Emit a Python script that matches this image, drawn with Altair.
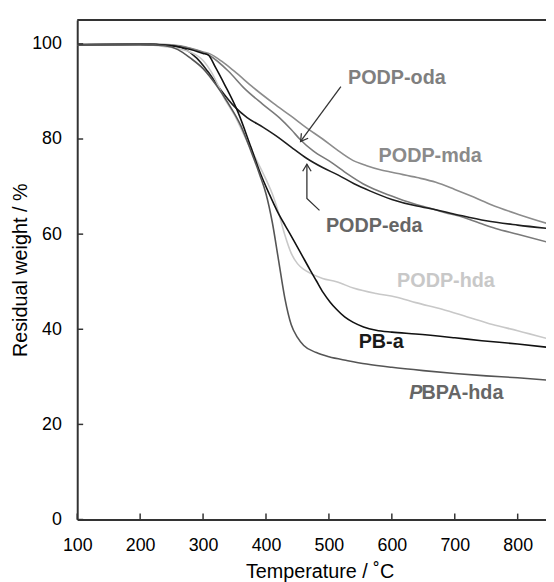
import altair as alt
import pandas as pd

FONT = "Liberation Sans, Arial, Helvetica, sans-serif"

# ---- data ----
series_names = ["PODP-mda", "PODP-oda", "PODP-eda", "PODP-hda", "PB-a", "PBPA-hda"]
series_colors = ["#8c8c8c", "#7a7a7a", "#1e1e1e", "#c8c8c8", "#111111", "#555555"]

mda_T = [100, 200, 250, 280, 300, 311, 330, 350, 380, 412, 440, 465, 490, 512, 538, 560, 580, 600, 640, 670, 700, 730, 758, 800, 848]
mda_W = [99.9, 100.0, 99.8, 99.1, 98.3, 97.9, 96.3, 94.2, 90.8, 87.5, 84.8, 82.3, 80.0, 77.8, 75.5, 74.4, 73.6, 73.0, 71.9, 70.9, 69.4, 67.8, 66.2, 64.2, 62.2]

oda_T = [100, 200, 250, 280, 311, 340, 366, 395, 422, 440, 455, 475, 505, 530, 554, 580, 610, 640, 660, 685, 707, 740, 765, 800, 848]
oda_W = [99.8, 99.9, 99.7, 99.0, 97.5, 94.3, 90.6, 87.3, 84.4, 82.0, 79.8, 77.5, 75.0, 72.6, 70.6, 69.0, 67.5, 66.2, 65.5, 64.5, 63.8, 62.3, 61.2, 60.0, 58.3]

eda_T = [100, 200, 250, 271, 290, 307, 330, 350, 370, 395, 420, 440, 465, 490, 515, 540, 565, 600, 640, 660, 700, 750, 800, 848]
eda_W = [99.8, 99.9, 99.6, 98.9, 97.0, 94.3, 90.0, 86.8, 84.5, 82.5, 80.3, 78.3, 75.9, 74.0, 72.4, 70.6, 69.1, 67.3, 65.9, 65.4, 64.2, 62.8, 61.9, 61.2]

hda_T = [100, 200, 230, 260, 281, 300, 313, 334, 350, 360, 376, 386, 400, 410, 420, 430, 440, 450, 460, 470, 490, 512, 540, 575, 606, 638, 680, 720, 760, 800, 848]
hda_W = [99.8, 99.9, 99.6, 99.0, 98.2, 96.5, 94.1, 88.5, 85.0, 82.3, 77.8, 75.3, 71.5, 68.5, 64.5, 59.8, 56.0, 53.8, 52.6, 51.8, 50.7, 50.0, 48.6, 47.5, 46.8, 45.6, 44.2, 42.6, 41.0, 39.7, 38.0]

pba_T = [100, 200, 250, 280, 300, 308, 320, 334, 355, 376, 391, 405, 418, 431, 444, 457, 470, 480, 491, 502, 512, 525, 538, 555, 575, 600, 638, 700, 743, 800, 848]
pba_W = [99.8, 99.9, 99.6, 98.8, 98.0, 97.7, 95.0, 91.5, 85.8, 78.3, 72.8, 68.5, 64.8, 61.7, 58.7, 55.6, 52.5, 50.2, 47.7, 45.7, 44.2, 42.6, 41.5, 40.5, 39.8, 39.4, 39.0, 38.2, 37.6, 36.9, 36.2]

pbpa_T = [100, 200, 240, 260, 280, 300, 320, 340, 360, 376, 390, 400, 410, 420, 430, 440, 450, 460, 480, 500, 530, 560, 600, 650, 700, 750, 800, 848]
pbpa_W = [99.8, 99.9, 99.6, 98.8, 97.0, 94.8, 91.5, 87.5, 82.8, 77.5, 72.5, 68.5, 62.5, 54.5, 46.5, 41.0, 38.3, 36.6, 35.1, 34.2, 33.4, 32.7, 32.0, 31.3, 30.7, 30.2, 29.8, 29.3]

x_ticks = [100, 200, 300, 400, 500, 600, 700, 800]
y_ticks = [0, 20, 40, 60, 80, 100]

# labels (data coordinates)
label_texts = ["PODP-oda", "PODP-mda", "PODP-eda", "PODP-hda", "PB-a"]
label_T = [608, 661, 572, 686, 583]
label_W = [92.8, 76.4, 61.6, 50.2, 37.3]
label_colors = ["#7f7f7f", "#8a8a8a", "#666666", "#c8c8c8", "#1a1a1a"]
pbpa_label_T = 647
pbpa_label_W = 26.5

# arrows
arrow_id = ["oda", "oda", "eda", "eda", "eda"]
arrow_k = [0, 1, 0, 1, 2]
arrow_T = [519, 455, 485, 465, 465]
arrow_W = [91.0, 79.5, 65.0, 67.5, 74.7]
head_T = [455, 465]
head_W = [79.5, 74.7]
head_angle = [216.4, 0]

# ---- build tables ----
all_T = [mda_T, oda_T, eda_T, hda_T, pba_T, pbpa_T]
all_W = [mda_W, oda_W, eda_W, hda_W, pba_W, pbpa_W]
rows = []
for name, Ts, Ws in zip(series_names, all_T, all_W):
    for t, w in zip(Ts, Ws):
        rows.append({"series": name, "T": t, "W": w})
df = pd.DataFrame(rows)

W_PX = 474
H_PX = 505
x_scale = alt.Scale(domain=[100, 845], nice=False, zero=False)
y_scale = alt.Scale(domain=[0, 105], nice=False, zero=True)

X_AXIS = alt.Axis(values=x_ticks, title="Temperature / ˚C", labelPadding=17,
                  titlePadding=8, titleX=245, labelFlush=False)
Y_AXIS = alt.Axis(values=y_ticks, title="Residual weight / %", labelPadding=16,
                  titlePadding=1, labelFlush=False)


def X():
    return alt.X("T:Q", scale=x_scale, axis=X_AXIS)


def Y():
    return alt.Y("W:Q", scale=y_scale, axis=Y_AXIS)


lines = alt.Chart(df).mark_line(strokeWidth=1.6, clip=True, interpolate="monotone").encode(
    x=X(), y=Y(),
    color=alt.Color("series:N", scale=alt.Scale(domain=series_names, range=series_colors), legend=None),
)

xt = pd.DataFrame({"T": x_ticks})
xtick = alt.Chart(xt).mark_rule(color="#333333", strokeWidth=1.5).encode(
    x=X(), y=alt.value(H_PX), y2=alt.value(H_PX - 6),
)
yt = pd.DataFrame({"W": y_ticks})
ytick = alt.Chart(yt).mark_rule(color="#333333", strokeWidth=1.5).encode(
    y=Y(), x=alt.value(0), x2=alt.value(6),
)
top = alt.Chart(pd.DataFrame({"a": [0]})).mark_rule(color="#333333", strokeWidth=2).encode(
    x=alt.value(0), x2=alt.value(W_PX), y=alt.value(0),
)

lab = pd.DataFrame({"text": label_texts, "T": label_T, "W": label_W, "c": label_colors})
labels = alt.Chart(lab).mark_text(font=FONT, fontSize=20, fontWeight="bold", baseline="middle").encode(
    x=X(), y=Y(), text="text:N", color=alt.Color("c:N", scale=None),
)
pb_df = pd.DataFrame({"T": [pbpa_label_T], "W": [pbpa_label_W]})
pbpa_p = alt.Chart(pb_df).mark_text(font=FONT, fontSize=20, fontWeight="bold", fontStyle="italic",
                                     align="right", baseline="middle", color="#666666", text="P", dx=1).encode(
    x=X(), y=Y(),
)
pbpa_rest = alt.Chart(pb_df).mark_text(font=FONT, fontSize=20, fontWeight="bold",
                                        align="left", baseline="middle", color="#666666", text="BPA-hda").encode(
    x=X(), y=Y(),
)

adf = pd.DataFrame({"id": arrow_id, "k": arrow_k, "T": arrow_T, "W": arrow_W})
arrows = alt.Chart(adf).mark_line(color="#333333", strokeWidth=1.3).encode(
    x=X(), y=Y(), detail="id:N", order=alt.Order("k:Q"),
)
hdf = pd.DataFrame({"T": head_T, "W": head_W, "ang": head_angle})
heads = alt.Chart(hdf).mark_point(shape="M -0.9 1.5 L 0 0 L 0.9 1.5", size=90, filled=False,
                                  color="#333333", strokeWidth=1.3, opacity=1).encode(
    x=X(), y=Y(), angle=alt.Angle("ang:Q", scale=None),
)

chart = alt.layer(lines, xtick, ytick, top, arrows, heads, labels, pbpa_p, pbpa_rest).properties(
    width=W_PX, height=H_PX,
    autosize=alt.AutoSizeParams(type="none"),
    padding={"left": 70, "top": 9, "right": 0, "bottom": 66},
    background="white",
).configure_view(stroke=None).configure_axis(
    labelFont=FONT, labelFontSize=18, labelColor="#000000",
    titleFont=FONT, titleFontSize=20, titleFontWeight="normal", titleColor="#000000",
    domainColor="#333333", domainWidth=2, grid=False, ticks=False, tickSize=0,
)

chart.save("out.html", embed_options={"renderer": "svg", "actions": False})
